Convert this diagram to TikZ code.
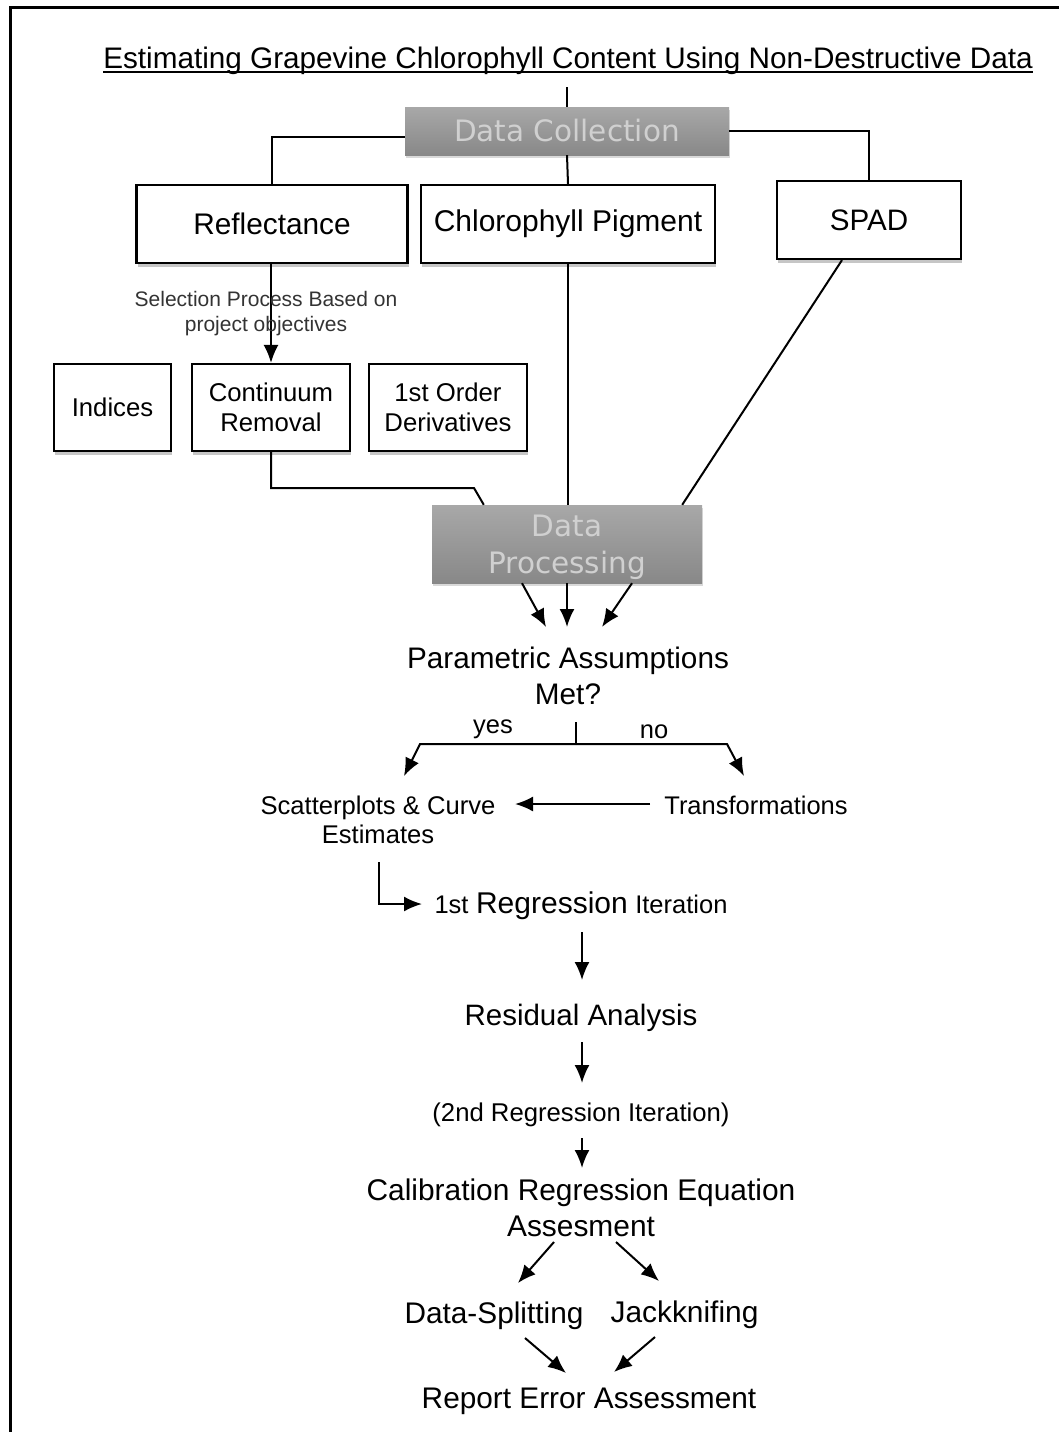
\documentclass[tikz,border=0pt]{standalone}
\usepackage{fontspec}
\setmainfont{Liberation Sans}
\newfontfamily\dejavu{DejaVu Sans}
\usetikzlibrary{arrows.meta,shadows}
\definecolor{gtop}{HTML}{A8A8A8}
\definecolor{gbot}{HTML}{888888}
\definecolor{gtxt}{HTML}{D0D0D0}
\newcommand\myfs[2]{\fontsize{#1}{#2}\selectfont}
\begin{document}
\begin{tikzpicture}[x=1pt,y=-1pt,
  wbox/.style={draw, line width=2.2pt, fill=white, inner sep=0pt, align=center,
    drop shadow={shadow xshift=1pt, shadow yshift=-4pt, opacity=0.45}},
  gbox/.style={top color=gtop, bottom color=gbot, inner sep=0pt, align=center,
    text=gtxt, font=\dejavu\myfs{29.5}{37},
    drop shadow={shadow xshift=1pt, shadow yshift=-3pt, opacity=0.3}},
  lbl/.style={inner sep=0pt, align=center, anchor=base},
  conn/.style={line width=2pt},
  arr/.style={conn, -{Latex[length=18pt,width=15pt]}}]
\useasboundingbox (0,0) rectangle (1059,1432);
% frame
\draw[line width=3pt] (10,1432) -- (10,7) -- (1059,7);

% title
\node[lbl, font=\myfs{29.7}{34}] (title) at (568,68) {Estimating Grapevine Chlorophyll Content Using Non-Destructive Data};
\draw[line width=1.4pt] ([yshift=-4pt]title.base west) -- ([yshift=-4pt]title.base east);

% top row
\node[gbox, minimum width=324pt, minimum height=48pt] (dc) at (567,131) {Data Collection};
\node[wbox, minimum width=271pt, minimum height=78pt, font=\myfs{29.8}{34}] (refl) at (272,224) {Reflectance};
\node[wbox, minimum width=294pt, minimum height=78pt, font=\myfs{30}{34}] (chl) at (568,224) {Chlorophyll Pigment};
\node[wbox, minimum width=184pt, minimum height=78pt, font=\myfs{29.6}{34}] (spad) at (869,220) {SPAD};

% second row
\node[wbox, minimum width=117pt, minimum height=87pt, font=\myfs{25.7}{30}] (ind) at (112.5,407.5) {Indices};
\node[wbox, minimum width=158pt, minimum height=87pt, font=\myfs{25.7}{30}] (cont) at (271,407.5) {Continuum\\Removal};
\node[wbox, minimum width=158pt, minimum height=87pt, font=\myfs{25.7}{30}] (der) at (448,407.5) {1st Order\\Derivatives};

\node[gbox, minimum width=270pt, minimum height=78pt, text depth=0pt] (dp) at (567,544) {Data\\Processing};

% coordinates
\coordinate (t0) at (567,87);
\coordinate (c1) at (474,488);

% connectors top
\draw[conn] (t0) -- (dc.north);
\draw[conn] ([yshift=-6pt]dc.west) -| (refl.north);
\draw[conn] (dc.east) -| (spad.north);
\draw[conn] (dc.south) -- (chl.north);
\draw[arr] (refl.south -| cont.north) -- (cont.north);
\node[lbl, font=\myfs{21}{25}, text=black!80] (sel) at (266,331) {Selection Process Based on\\project objectives};
\draw[conn] (cont.south) |- (c1) -- ([xshift=52pt]dp.north west);
\draw[conn] (chl.south) -- (chl.south |- dp.north);
\draw[conn] ([xshift=-27pt]spad.south) -- ([xshift=-20pt]dp.north east);

% middle
\node[lbl, font=\myfs{29.7}{36}] (pa) at (568,704) {Parametric Assumptions\\Met?};
\coordinate (p1) at (546,627);
\coordinate (p2) at (567,627);
\coordinate (p3) at (602,627);
\draw[arr] ([xshift=-45pt]dp.south) -- (p1);
\draw[arr] (dp.south) -- (p2);
\draw[arr] ([xshift=65pt]dp.south) -- (p3);

\node[lbl, font=\myfs{25.5}{28}] (yes) at (493,733) {yes};
\node[lbl, font=\myfs{25.5}{28}] (no) at (654,738) {no};
\coordinate (b0) at (576,722);
\coordinate (b1) at (576,744);
\coordinate (bl) at (420,744);
\coordinate (br) at (727,744);
\coordinate (tl) at (404,776);
\coordinate (tr) at (744,776);
\draw[conn] (b0) -- (b1);
\draw[arr] (b1) -- (bl) -- (tl);
\draw[arr] (b1) -- (br) -- (tr);

\node[lbl, font=\myfs{25.6}{29}] (sc) at (378,843) {Scatterplots \& Curve\\Estimates};
\node[lbl, font=\myfs{25.5}{29}] (tf) at (756,814) {Transformations};
\coordinate (s1) at (515,804);
\draw[arr] ([xshift=-14pt,yshift=10pt]tf.base west) -- (s1);

\node[lbl, font=\myfs{27}{32}] (reg) at (581,913) {{\myfs{25.5}{28}1st} {\myfs{30}{34}Regression} {\myfs{25.5}{28}Iteration}};
\coordinate (s2) at (379,862);
\coordinate (s3) at (422,904);
\draw[arr] (s2) |- (s3);

\node[lbl, font=\myfs{29.5}{33}] (res) at (581,1025) {Residual Analysis};
\node[lbl, font=\myfs{25.7}{30}] (reg2) at (581,1121) {(2nd Regression Iteration)};
\node[lbl, font=\myfs{29.9}{36}] (cal) at (581,1236) {Calibration Regression Equation\\Assesment};
\coordinate (r1) at (582,932);
\coordinate (r2) at (582,980);
\coordinate (r3) at (582,1042);
\coordinate (r4) at (582,1083);
\coordinate (r5) at (582,1138);
\coordinate (r6) at (582,1168);
\draw[arr] (r1) -- (r2);
\draw[arr] (r3) -- (r4);
\draw[arr] (r5) -- (r6);

\node[lbl, font=\myfs{29.8}{34}] (ds) at (494,1323) {Data-Splitting};
\node[lbl, font=\myfs{29.9}{34}] (jk) at (684.5,1322) {Jackknifing};
\node[lbl, font=\myfs{29.8}{34}] (rep) at (589,1408) {Report Error Assessment};
\coordinate (q1) at (554,1242);
\coordinate (q2) at (518,1283);
\coordinate (q3) at (616,1242);
\coordinate (q4) at (659,1281);
\coordinate (q5) at (525,1338);
\coordinate (q6) at (566,1373);
\coordinate (q7) at (655,1337);
\coordinate (q8) at (614,1372);
\draw[arr] (q1) -- (q2);
\draw[arr] (q3) -- (q4);
\draw[arr] (q5) -- (q6);
\draw[arr] (q7) -- (q8);
\end{tikzpicture}
\end{document}
